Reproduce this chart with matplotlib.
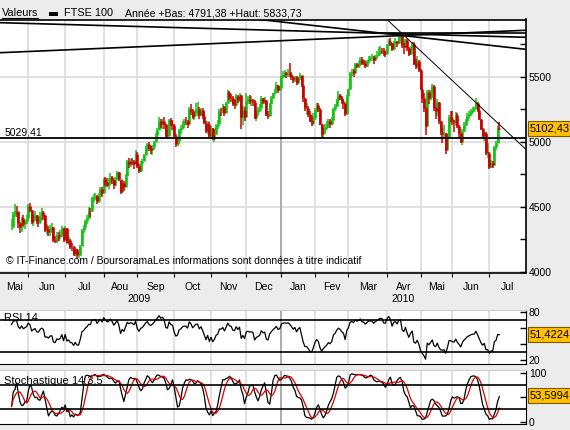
import numpy as np
import pandas as pd
import matplotlib
matplotlib.use('Agg')
import matplotlib.pyplot as plt
from matplotlib.patches import Rectangle
from matplotlib.lines import Line2D

plt.rcParams['font.family'] = ['Liberation Sans', 'DejaVu Sans']
plt.rcParams['font.size'] = 7.5

# ---- données : FTSE 100, cours journaliers ----
premier_jour = '2009-05-15'
jours_feries = ['2009-05-25', '2009-08-31', '2009-12-25', '2009-12-28', '2010-01-01',
                '2010-04-02', '2010-04-05', '2010-05-03', '2010-05-31']
mois_fr = ['Jan', 'Fev', 'Mar', 'Avr', 'Mai', 'Jun', 'Jul', 'Aou', 'Sep', 'Oct', 'Nov', 'Dec']

clotures = [
    4348, 4446, 4469, 4468, 4375, 4345, 4413, 4366, 4390, 4418,  # mai 09
    4507, 4480, 4384, 4417, 4439, 4388, 4382, 4433, 4461, 4442, 4325, 4330, 4310, 4340, 4345, 4246, 4235, 4283, 4275, 4287, 4337, 4249,
    4340, 4226, 4245, 4194, 4191, 4139, 4178, 4128, 4128, 4201, 4324, 4345, 4390, 4418, 4470, 4466, 4573, 4576, 4586, 4545, 4594, 4636, 4608,
    4716, 4692, 4671, 4685, 4732, 4708, 4671, 4714, 4767, 4718, 4612, 4683, 4657, 4740, 4851, 4833, 4857, 4850, 4832, 4909,
    4819, 4779, 4836, 4852, 4901, 4950, 4982, 4950, 4937, 4962, 4999, 5055, 5095, 5160, 5136, 5159, 5139, 5054, 5047, 5171, 5139, 5133,
    5047, 4988, 5005, 5093, 5109, 5149, 5161, 5159, 5140, 5256, 5236, 5191, 5221, 5256, 5257, 5208, 5243, 5201, 5145, 5081, 5140, 5044,
    5104, 5025, 5060, 5125, 5142, 5238, 5236, 5268, 5222, 5296, 5382, 5349, 5342, 5292, 5286, 5357, 5323, 5364, 5194, 5245, 5190,
    5313, 5327, 5313, 5322, 5311, 5186, 5227, 5244, 5261, 5340, 5310, 5323, 5211, 5197, 5295, 5335, 5373, 5402, 5437, 5397, 5412,
    5500, 5522, 5530, 5526, 5534, 5520, 5498, 5473, 5498, 5455, 5494, 5513, 5439, 5335, 5260, 5260, 5217, 5165, 5146, 5188,
    5247, 5283, 5255, 5139, 5060, 5092, 5112, 5131, 5161, 5142, 5167, 5251, 5276, 5325, 5358, 5342, 5316, 5301, 5218, 5354,
    5405, 5534, 5546, 5533, 5600, 5587, 5602, 5640, 5610, 5608, 5587, 5620, 5645, 5645, 5650, 5630, 5658, 5672, 5695, 5711, 5708, 5681, 5679,
    5744, 5780, 5762, 5713, 5770, 5778, 5761, 5812, 5825, 5743, 5727, 5781, 5723, 5676, 5723, 5754, 5603, 5586, 5621, 5553,
    5411, 5342, 5261, 5123, 5387, 5335, 5384, 5433, 5262, 5237, 5307, 5158, 5073, 5063, 5069, 4940, 5038, 5195, 5188,
    5163, 5151, 5211, 5126, 5069, 4996, 5085, 5133, 5163, 5202, 5217, 5237, 5247, 5250, 5300, 5247, 5178, 5100, 5046, 5071, 4915, 4917,
    4805, 4838, 4823, 4965, 4992, 5105, 5102.43,  # juil 10
]
plus_hauts = [
    4410, 4460, 4520, 4510, 4440, 4385, 4420, 4440, 4400, 4440,
    4520, 4530, 4480, 4440, 4470, 4440, 4420, 4460, 4490, 4470, 4440, 4370, 4350, 4360, 4380, 4345, 4280, 4310, 4310, 4320, 4350, 4340,
    4350, 4340, 4270, 4250, 4220, 4200, 4190, 4180, 4150, 4210, 4330, 4360, 4400, 4440, 4500, 4490, 4580, 4600, 4610, 4590, 4610, 4650, 4650,
    4720, 4730, 4720, 4720, 4760, 4740, 4710, 4730, 4780, 4770, 4700, 4690, 4700, 4750, 4860, 4880, 4870, 4880, 4860, 4935,
    4920, 4830, 4850, 4870, 4910, 4970, 4990, 5000, 4970, 4975, 5010, 5070, 5110, 5190, 5175, 5180, 5190, 5140, 5090, 5180, 5185, 5170,
    5140, 5060, 5030, 5100, 5130, 5160, 5180, 5190, 5170, 5270, 5290, 5250, 5240, 5300, 5310, 5270, 5260, 5260, 5230, 5160, 5160, 5150,
    5120, 5110, 5090, 5140, 5170, 5250, 5260, 5290, 5280, 5310, 5400, 5390, 5370, 5350, 5320, 5370, 5360, 5380, 5360, 5280, 5270,
    5380, 5350, 5360, 5350, 5330, 5320, 5240, 5270, 5290, 5350, 5340, 5345, 5320, 5240, 5300, 5350, 5380, 5410, 5460, 5440, 5420,
    5510, 5545, 5555, 5540, 5560, 5605, 5540, 5510, 5510, 5510, 5500, 5530, 5510, 5440, 5340, 5300, 5280, 5240, 5200, 5220,
    5260, 5300, 5300, 5260, 5140, 5110, 5140, 5160, 5180, 5180, 5190, 5260, 5290, 5330, 5390, 5370, 5350, 5320, 5300, 5360,
    5410, 5540, 5560, 5560, 5610, 5610, 5620, 5650, 5650, 5630, 5620, 5630, 5660, 5660, 5680, 5660, 5670, 5700, 5730, 5740, 5720, 5720, 5700,
    5750, 5790, 5800, 5760, 5780, 5800, 5780, 5815, 5834, 5830, 5760, 5790, 5790, 5730, 5740, 5770, 5770, 5640, 5660, 5630,
    5560, 5420, 5380, 5270, 5400, 5400, 5400, 5445, 5440, 5270, 5330, 5310, 5160, 5110, 5130, 5070, 5060, 5210, 5240,
    5240, 5170, 5230, 5220, 5130, 5070, 5100, 5150, 5180, 5220, 5240, 5250, 5270, 5270, 5340, 5310, 5250, 5180, 5110, 5100, 5080, 4990,
    4920, 4860, 4850, 4970, 5010, 5120, 5150,
]
plus_bas = [
    4320, 4340, 4420, 4420, 4340, 4300, 4310, 4350, 4330, 4370,
    4418, 4460, 4370, 4350, 4390, 4370, 4345, 4370, 4400, 4400, 4310, 4290, 4280, 4275, 4300, 4230, 4220, 4220, 4240, 4250, 4270, 4230,
    4240, 4220, 4210, 4180, 4160, 4120, 4120, 4110, 4105, 4120, 4200, 4300, 4330, 4370, 4410, 4420, 4460, 4540, 4550, 4520, 4530, 4590, 4580,
    4610, 4660, 4650, 4640, 4680, 4680, 4640, 4660, 4710, 4700, 4600, 4610, 4620, 4660, 4740, 4800, 4810, 4820, 4790, 4830,
    4800, 4760, 4770, 4820, 4860, 4900, 4930, 4930, 4910, 4900, 4940, 5000, 5040, 5090, 5110, 5100, 5100, 5040, 5020, 5050, 5120, 5090,
    5030, 4960, 4970, 5000, 5060, 5100, 5120, 5130, 5110, 5140, 5210, 5180, 5170, 5200, 5200, 5180, 5200, 5180, 5140, 5070, 5060, 5030,
    5020, 5015, 5000, 5050, 5100, 5150, 5200, 5220, 5200, 5220, 5290, 5320, 5310, 5280, 5250, 5290, 5300, 5310, 5100, 5130, 5160,
    5200, 5290, 5290, 5280, 5280, 5180, 5160, 5200, 5230, 5260, 5290, 5290, 5200, 5180, 5200, 5290, 5330, 5370, 5400, 5380, 5390,
    5400, 5490, 5500, 5490, 5500, 5500, 5480, 5450, 5460, 5440, 5450, 5480, 5420, 5310, 5240, 5210, 5190, 5150, 5120, 5130,
    5170, 5230, 5230, 5130, 5030, 5040, 5060, 5100, 5110, 5110, 5130, 5160, 5240, 5270, 5300, 5320, 5290, 5250, 5200, 5220,
    5350, 5400, 5510, 5500, 5530, 5570, 5570, 5590, 5590, 5590, 5570, 5580, 5610, 5620, 5620, 5600, 5620, 5640, 5660, 5680, 5680, 5660, 5650,
    5680, 5740, 5740, 5700, 5710, 5750, 5730, 5750, 5790, 5720, 5680, 5720, 5700, 5660, 5670, 5710, 5590, 5560, 5570, 5540,
    5400, 5300, 5230, 5050, 5120, 5290, 5320, 5360, 5240, 5180, 5200, 5140, 5050, 4990, 5030, 4910, 4950, 5030, 5150,
    5130, 5080, 5130, 5110, 5040, 4990, 4980, 5080, 5120, 5150, 5180, 5200, 5220, 5230, 5250, 5230, 5170, 5090, 5040, 5010, 4900, 4880,
    4791, 4800, 4800, 4830, 4940, 4990, 5095,
]

annee_bas = 4791.38
annee_haut = 5833.73
support = 5029.41
rsi_dernier = 51.4224
stoch_dernier = 53.5994
rsi_niveaux = [30, 70]
stoch_niveaux = [25, 75]
rsi_init = (45.0, 25.0)   # moyennes initiales hausse / baisse

# lignes tracées à la main : (indice de séance, cours)
lignes_tendance = [
    [(-8, 5918), (310, 5804)],
    [(-8, 5686), (310, 5861)],
    [(148, 5942), (310, 5708)],
]
ligne_baisse = [(223.8, 5944), (310, 4905)]
ligne_haut = [(215, 5836), (310, 5836)]

W, H = 570, 430
fond = '#ececec'
vert = '#12c312'
rouge = '#cc0000'
grille = '#dedede'


def fr(v, n=2):
    return f"{v:.{n}f}".replace('.', ',')


def axes_px(fig, x0, y0, x1, y1):
    return fig.add_axes([x0 / W, 1 - y1 / H, (x1 - x0) / W, (y1 - y0) / H])


# calendrier des séances
dates = pd.bdate_range(premier_jour, periods=len(clotures), freq='C', holidays=jours_feries)
idx = np.arange(len(clotures))
c = pd.Series(clotures, dtype=float)
hauts = pd.Series(plus_hauts, dtype=float)
bas = pd.Series(plus_bas, dtype=float)
ouv = c.shift(1).fillna(c.iloc[0])
hausse = c >= ouv

# RSI 14 (lissage de Wilder)
delta = c.diff().fillna(0)
g, p = rsi_init
rsi = []
for dlt in delta:
    g = (g * 13 + max(dlt, 0)) / 14
    p = (p * 13 + max(-dlt, 0)) / 14
    rsi.append(100 - 100 / (1 + g / p))
rsi = np.array(rsi)

# stochastique 14,3,5
hh = hauts.rolling(14, min_periods=1).max()
ll = bas.rolling(14, min_periods=1).min()
k = (100 * (c - ll) / (hh - ll)).rolling(3, min_periods=1).mean()
d = k.rolling(5, min_periods=1).mean()

# début de chaque mois
debuts = [i for i in range(1, len(dates)) if dates[i].month != dates[i - 1].month]
i_jan = [i for i in debuts if dates[i].month == 1][0]
xmin, xmax = -6.9, 306.9
bornes = [xmin] + debuts + [xmax]
centres = [(bornes[j] + bornes[j + 1]) / 2 for j in range(len(bornes) - 1)]
noms = [mois_fr[dates[0].month - 1]] + [mois_fr[dates[i].month - 1] for i in debuts]

fig = plt.figure(figsize=(W / 100, H / 100), dpi=100, facecolor=fond)


def style_panneau(ax, haut='black'):
    ax.set_facecolor('white')
    ax.set_xlim(xmin, xmax)
    ax.set_xticks(debuts)
    ax.grid(True, axis='x', color=grille, lw=1.3)
    ax.axvline(i_jan, color='#a8a8a8', lw=1.3, zorder=1)
    ax.spines['left'].set_visible(False)
    ax.spines['top'].set_color(haut)
    ax.yaxis.tick_right()
    ax.tick_params(axis='y', direction='in', length=4, pad=2, labelsize=7.5, width=1)
    ax.set_axisbelow(True)


def boite(ax, valeur, texte):
    ax.annotate(texte, xy=(1, valeur), xycoords=('axes fraction', 'data'),
                xytext=(4, 0), textcoords='offset pixels', ha='left', va='center',
                fontsize=8, annotation_clip=False,
                bbox=dict(boxstyle='square,pad=0.22', fc='#ffc000', ec='#7a5a00', lw=0.8))


# ---- graphique principal ----
ax = axes_px(fig, 0, 19.5, 526, 272.5)
style_panneau(ax)
ax.set_ylim(3996, 5942)
ax.set_yticks([4000, 4500, 5000, 5500])
ax.set_yticks([4250, 4750, 5250, 5750], minor=True)
ax.tick_params(axis='y', which='minor', direction='in', length=4, width=1)
ax.grid(True, axis='y', which='major', color=grille, lw=1.3)
ax.tick_params(axis='x', which='major', direction='out', length=3, labelbottom=False)
ax.set_xticks(centres, minor=True)
ax.set_xticklabels(noms, minor=True)
ax.tick_params(axis='x', which='minor', length=0, pad=7, labelsize=7.5)
for sp in ['top', 'right', 'bottom']:
    ax.spines[sp].set_linewidth(1.2)

for sens, col in [(True, vert), (False, rouge)]:
    m = hausse == sens
    ax.vlines(idx[m], bas[m], hauts[m], color=col, lw=1.1, zorder=3)
    ax.vlines(idx[m], np.minimum(ouv[m], c[m]), np.maximum(ouv[m], c[m]), color=col, lw=1.9, zorder=3)

ax.axhline(support, color='black', lw=1.3, zorder=4)
for (x0, y0), (x1, y1) in lignes_tendance:
    ax.plot([x0, x1], [y0, y1], color='black', lw=1.2, zorder=4)
ax.plot(*zip(*ligne_haut), color='black', lw=1.2, zorder=4)
ax.plot(*zip(*ligne_baisse), color='black', lw=0.7, zorder=4)

ax.text(0.009, support + 45, fr(support), transform=ax.get_yaxis_transform(),
        ha='left', va='center', fontsize=7.5)
ax.text(0.011, 0.025, '\u00a9 IT-Finance.com / BoursoramaLes informations sont données à titre indicatif',
        transform=ax.transAxes, ha='left', va='bottom', fontsize=7.5)
boite(ax, clotures[-1], fr(clotures[-1]))

# années
annees = {}
for j, ctr in enumerate(centres):
    a = dates[0].year if j == 0 else dates[debuts[j - 1]].year
    annees.setdefault(a, []).append(ctr)
for a, cs in annees.items():
    ax.annotate(str(a), xy=((cs[0] + cs[-1]) / 2, 0), xycoords=('data', 'axes fraction'),
                xytext=(0, -26), textcoords='offset pixels', ha='center', va='center', fontsize=7.5,
                annotation_clip=False)

# titre
fig.text(2 / W, 1 - 13.5 / H, 'Valeurs', ha='left', va='center', fontsize=7.8)
fig.add_artist(Line2D([2 / W, 38 / W], [1 - 18 / H, 1 - 18 / H], color='black', lw=0.8))
fig.add_artist(Rectangle((49 / W, 1 - 15.5 / H), 9 / W, 3 / H, fc='black', transform=fig.transFigure))
fig.text(64 / W, 1 - 13.5 / H, 'FTSE 100', ha='left', va='center', fontsize=7.8)
fig.text(125 / W, 1 - 13.5 / H, f'Année +Bas: {fr(annee_bas)} +Haut: {fr(annee_haut)}',
         ha='left', va='center', fontsize=7.6)

# ---- RSI ----
ax2 = axes_px(fig, 0, 310, 526, 364)
style_panneau(ax2, haut='#cfcfcf')
ax2.set_ylim(15.6, 81.9)
ax2.set_yticks([20, 40, 60, 80])
ax2.set_yticklabels(['20', '', '', '80'])
ax2.tick_params(axis='x', length=0, labelbottom=False)
ax2.plot(idx, rsi, color='black', lw=0.9, zorder=3)
for niv in rsi_niveaux:
    ax2.axhline(niv, color='black', lw=1.2, zorder=4)
ax2.text(0.008, 72, 'RSI 14', transform=ax2.get_yaxis_transform(), ha='left', va='center', fontsize=8)
boite(ax2, rsi_dernier, fr(rsi_dernier, 4))

# ---- Stochastique ----
ax3 = axes_px(fig, 0, 370, 526, 424)
style_panneau(ax3, haut='#cfcfcf')
ax3.set_ylim(-4.7, 105.5)
ax3.set_yticks([0, 50, 100])
ax3.set_yticklabels(['0', '', '100'])
ax3.tick_params(axis='x', length=0, labelbottom=False)
ax3.plot(idx, k, color='black', lw=0.9, zorder=3)
ax3.plot(idx, d, color='#dd0000', lw=0.9, zorder=3)
for niv in stoch_niveaux:
    ax3.axhline(niv, color='black', lw=1.2, zorder=4)
ax3.text(0.008, 83, 'Stochastique 14,3,5', transform=ax3.get_yaxis_transform(),
         ha='left', va='center', fontsize=8)
boite(ax3, stoch_dernier, fr(stoch_dernier, 4))

fig.savefig('out.png', dpi=100, facecolor=fond)
